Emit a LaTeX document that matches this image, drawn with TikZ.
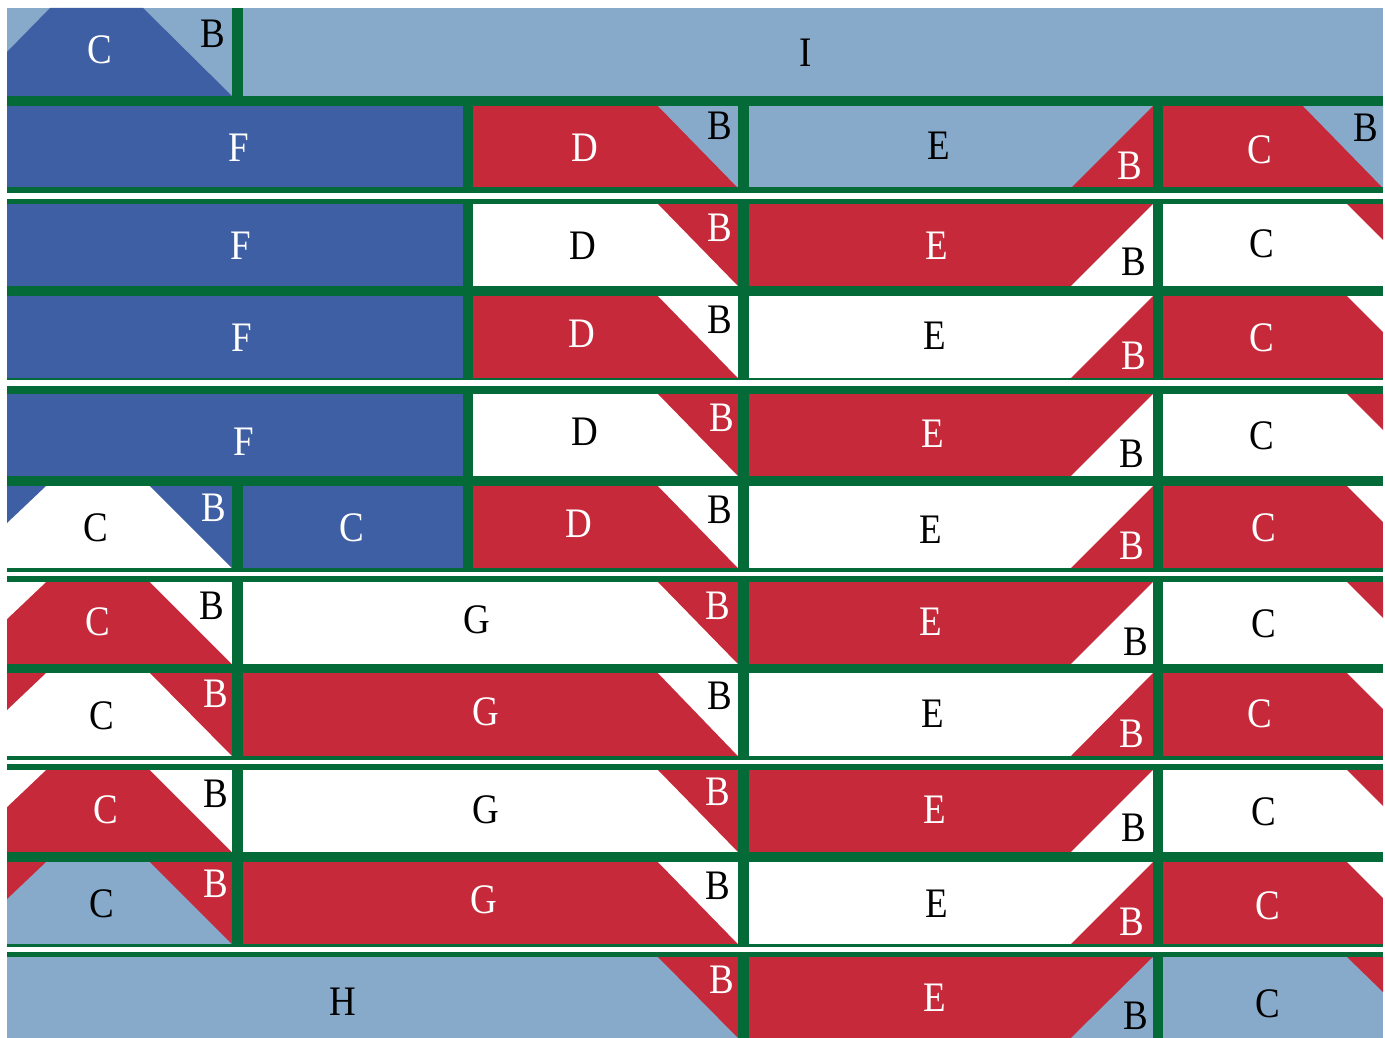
\documentclass[tikz,border=0pt]{standalone}
\usepackage{fontspec}
\setmainfont[FakeStretch=0.88]{Liberation Serif}
\definecolor{navy}{HTML}{3E5FA3}
\definecolor{sky}{HTML}{87AACB}
\definecolor{crim}{HTML}{C6293A}
\definecolor{leaf}{HTML}{046A38}
\newcommand{\lbl}{\fontsize{42}{42}\selectfont}

\begin{document}
\begin{tikzpicture}[x=1pt, y=-1pt,
    dk/.style={font=\lbl, text=black, inner sep=0pt, xshift=1pt},
    lt/.style={font=\lbl, text=white, inner sep=0pt, xshift=1pt},
    bar/.style={fill=leaf, draw=none}]

  \useasboundingbox (0,0) rectangle (1385,1038);

  % top row
  \fill[sky] (7,8) rectangle (1383,96);
  \fill[navy] (7,52) -- (50,8) -- (143,8) -- (232,96) -- (7,96) -- cycle;

  % right hand blocks, row by row
  \foreach \yt/\yb/\dl/\dbg/\dcr/\ebg/\ecr/\cbg/\ccr/\cx/\cy in {
      106/188/473/crim/sky/sky/crim/crim/sky/1303/188,
      204/286/473/white/crim/crim/white/white/crim/1347/240,
      296/378/473/crim/white/white/crim/crim/white/1347/332,
      394/476/473/white/crim/crim/white/white/crim/1347/430,
      486/568/473/crim/white/white/crim/crim/white/1347/522,
      582/664/243/white/crim/crim/white/white/crim/1347/618,
      673/756/243/crim/white/white/crim/crim/white/1347/709,
      770/852/243/white/crim/crim/white/white/crim/1347/806,
      862/944/243/crim/white/white/crim/crim/white/1347/898,
      957/1038/7/sky/crim/crim/sky/sky/crim/1347/992}{
    \fill[\dbg] (\dl,\yt) rectangle (738,\yb);
    \fill[\dcr] (658,\yt) -- (738,\yb) -- (738,\yt) -- cycle;
    \fill[\ebg] (749,\yt) rectangle (1153,\yb);
    \fill[\ecr] (1153,\yt) -- (1071,\yb) -- (1153,\yb) -- cycle;
    \fill[\cbg] (1163,\yt) rectangle (1383,\yb);
    \fill[\ccr] (\cx,\yt) -- (1383,\cy) -- (1383,\yt) -- cycle;
  }

  % left hand blocks
  \foreach \yt/\yb/\cbg/\ccr in {
      486/568/white/navy,
      582/664/crim/white,
      673/756/white/crim,
      770/852/crim/white,
      862/944/sky/crim}{
    \fill[\cbg] (7,\yt) rectangle (232,\yb);
    \fill[\ccr] (7,\yt) -- (46,\yt) -- (7,\yt+37) -- cycle;
    \fill[\ccr] (150,\yt) -- (232,\yb) -- (232,\yt) -- cycle;
  }
  \foreach \yt/\yb in {106/188, 204/286, 296/378, 394/476}
    \fill[navy] (7,\yt) rectangle (463,\yb);
  \fill[navy] (243,486) rectangle (463,568);

  % strips
  \foreach \ya/\yb in {96/106, 187.5/193, 199/204, 285.5/296, 378/379.5, 386/393.5,
      476/486, 567.5/572, 576/582, 663.5/673, 756/760, 764/770, 852/862, 943.5/947, 952/957}
    \fill[bar] (7,\ya) rectangle (1383,\yb);
  \fill[bar] (232,8) rectangle (243,96);
  \foreach \ya/\yb in {486/572, 576/673, 673/760, 764/862, 862/947}
    \fill[bar] (232,\ya) rectangle (243,\yb);
  \foreach \ya/\yb in {106/193, 199/379.5, 386/572}
    \fill[bar] (463,\ya) rectangle (473,\yb);
  \foreach \xa/\xb in {738/749, 1153/1163}
    \foreach \ya/\yb in {106/193, 199/379.5, 386/572, 576/760, 764/947, 952/1038}
      \fill[bar] (\xa,\ya) rectangle (\xb,\yb);

  % row 0
  \node[lt] (c0) at (99,50) {C};
  \node[dk] (b0) at (212,34) {B};
  \node[dk] (i0) at (805,53) {I};
  % row 1
  \node[lt] (f1) at (238,148) {F};
  \node[lt] (d1) at (584,148) {D};
  \node[dk] (b1a) at (719,126) {B};
  \node[dk] (e1) at (938,146) {E};
  \node[lt] (b1b) at (1129,166) {B};
  \node[lt] (c1) at (1259,150) {C};
  \node[dk] (b1c) at (1365,128) {B};
  % row 2
  \node[lt] (f2) at (240,246) {F};
  \node[dk] (d2) at (582,246) {D};
  \node[lt] (b2a) at (719,228) {B};
  \node[lt] (e2) at (936,246) {E};
  \node[dk] (b2b) at (1133,262) {B};
  \node[dk] (c2) at (1261,244) {C};
  % row 3
  \node[lt] (f3) at (241,338) {F};
  \node[lt] (d3) at (581,334) {D};
  \node[dk] (b3a) at (719,320) {B};
  \node[dk] (e3) at (934,336) {E};
  \node[lt] (b3b) at (1133,356) {B};
  \node[lt] (c3) at (1261,338) {C};
  % row 4
  \node[lt] (f4) at (243,442) {F};
  \node[dk] (d4) at (584,432) {D};
  \node[lt] (b4a) at (721,418) {B};
  \node[lt] (e4) at (932,434) {E};
  \node[dk] (b4b) at (1131,454) {B};
  \node[dk] (c4) at (1261,436) {C};
  % row 5
  \node[dk] (c5a) at (95,528) {C};
  \node[lt] (b5a) at (213,508) {B};
  \node[lt] (c5b) at (351,528) {C};
  \node[lt] (d5) at (578,524) {D};
  \node[dk] (b5b) at (719,510) {B};
  \node[dk] (e5) at (930,530) {E};
  \node[lt] (b5c) at (1131,546) {B};
  \node[lt] (c5c) at (1263,528) {C};
  % row 6
  \node[lt] (c6a) at (97,622) {C};
  \node[dk] (b6a) at (211,606) {B};
  \node[dk] (g6) at (476,620) {G};
  \node[lt] (b6b) at (717,606) {B};
  \node[lt] (e6) at (930,622) {E};
  \node[dk] (b6c) at (1135,642) {B};
  \node[dk] (c6b) at (1263,624) {C};
  % row 7
  \node[dk] (c7a) at (101,716) {C};
  \node[lt] (b7a) at (215,694) {B};
  \node[lt] (g7) at (485,712) {G};
  \node[dk] (b7b) at (719,696) {B};
  \node[dk] (e7) at (932,714) {E};
  \node[lt] (b7c) at (1131,734) {B};
  \node[lt] (c7b) at (1259,714) {C};
  % row 8
  \node[lt] (c8a) at (105,810) {C};
  \node[dk] (b8a) at (215,794) {B};
  \node[dk] (g8) at (485,810) {G};
  \node[lt] (b8b) at (717,792) {B};
  \node[lt] (e8) at (934,810) {E};
  \node[dk] (b8c) at (1133,828) {B};
  \node[dk] (c8b) at (1263,812) {C};
  % row 9
  \node[dk] (c9a) at (101,904) {C};
  \node[lt] (b9a) at (215,884) {B};
  \node[lt] (g9) at (483,900) {G};
  \node[dk] (b9b) at (717,886) {B};
  \node[dk] (e9) at (936,904) {E};
  \node[lt] (b9c) at (1131,922) {B};
  \node[lt] (c9b) at (1267,906) {C};
  % row 10
  \node[dk] (h10) at (342,1002) {H};
  \node[lt] (b10a) at (721,980) {B};
  \node[lt] (e10) at (934,998) {E};
  \node[dk] (b10b) at (1135,1016) {B};
  \node[dk] (c10) at (1267,1004) {C};
\end{tikzpicture}
\end{document}
